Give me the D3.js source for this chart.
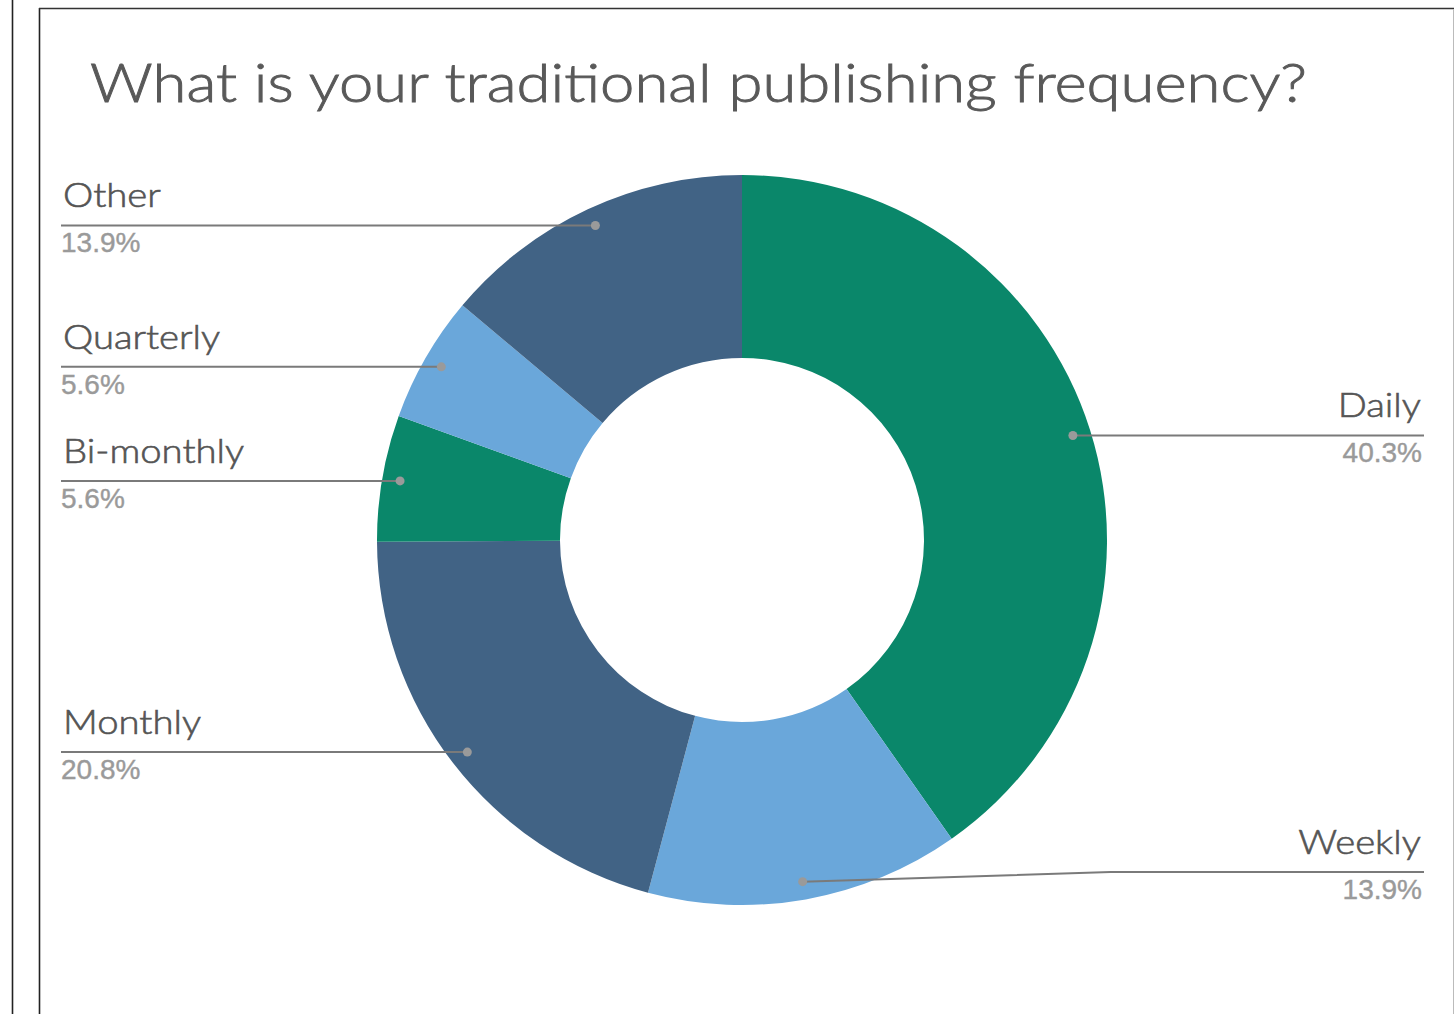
<!DOCTYPE html>
<html>
<head>
<meta charset="utf-8">
<script src="https://cdn.jsdelivr.net/npm/d3@7"></script>
<style>
  html, body { margin: 0; padding: 0; background: #fff; }
  svg { display: block; }
</style>
</head>
<body>
<svg id="chart" width="1454" height="1014"></svg>
<script>
// Survey answers, in clockwise order from 12 o'clock
const categories = ["Daily", "Weekly", "Monthly", "Bi-monthly", "Quarterly", "Other"];
const shares = [40.3, 13.9, 20.8, 5.6, 5.6, 13.9];
const shareLabels = ["40.3%", "13.9%", "20.8%", "5.6%", "5.6%", "13.9%"];
const sliceColors = ["#0a876a", "#6aa7da", "#416385", "#0a876a", "#6aa7da", "#416385"];
const title = "What is your traditional publishing frequency?";

const svg = d3.select("#chart");
const W = 1454, H = 1014;

// frame lines
svg.append("line").attr("x1", 12.5).attr("x2", 12.5).attr("y1", 0).attr("y2", H)
  .attr("stroke", "#222").attr("stroke-width", 1.6);
svg.append("line").attr("x1", 39.5).attr("x2", 39.5).attr("y1", 8).attr("y2", H)
  .attr("stroke", "#222").attr("stroke-width", 1.6);
svg.append("line").attr("x1", 39).attr("x2", W).attr("y1", 8.5).attr("y2", 8.5)
  .attr("stroke", "#333").attr("stroke-width", 1.6);
svg.append("line").attr("x1", W - 0.5).attr("x2", W - 0.5).attr("y1", 9).attr("y2", H)
  .attr("stroke", "#bbb").attr("stroke-width", 1);

// title
svg.append("text")
  .attr("x", 90).attr("y", 102)
  .attr("font-family", "Lato, 'Noto Sans', sans-serif")
  .attr("font-weight", 300)
  .attr("font-size", 54)
  .attr("fill", "#595959")
  .attr("stroke", "#595959")
  .attr("stroke-width", 0.9)
  .attr("textLength", 1217)
  .attr("lengthAdjust", "spacingAndGlyphs")
  .text(title);

const cx = 742, cy = 540;
const outerR = 365, innerR = 182, anchorR = 347;

const pie = d3.pie().sort(null).value(d => d.value);
const arcs = pie(categories.map((c, i) => ({ name: c, value: shares[i], label: shareLabels[i], color: sliceColors[i] })));

const arc = d3.arc().innerRadius(innerR).outerRadius(outerR);
const anchorArc = d3.arc().innerRadius(anchorR).outerRadius(anchorR);

const g = svg.append("g").attr("transform", `translate(${cx},${cy})`);

g.selectAll("path.slice")
  .data(arcs)
  .join("path")
  .attr("class", "slice")
  .attr("d", arc)
  .attr("fill", d => d.data.color);

// leader lines and labels
const leftEnd = 61, rightEnd = 1424;
const lowestLabel = 872;   // labels near the bottom are lifted to this level
const elbowRun = 308;

const labels = svg.append("g");
arcs.forEach(d => {
  const [ax, ay] = anchorArc.centroid(d);
  const px = cx + ax, py = cy + ay;
  const mid = (d.startAngle + d.endAngle) / 2;
  const right = mid < Math.PI;
  const ly = Math.min(py, lowestLabel);
  const endX = right ? rightEnd : leftEnd;
  const elbowX = right ? px + elbowRun : px - elbowRun;

  labels.append("path")
    .attr("d", d3.line()([[px, py], [elbowX, ly], [endX, ly]]))
    .attr("fill", "none")
    .attr("stroke", "#7a7a7a")
    .attr("stroke-width", 2);
  labels.append("circle")
    .attr("cx", px).attr("cy", py).attr("r", 4.5)
    .attr("fill", "#9a9a9a");

  const anchor = right ? "end" : "start";
  labels.append("text")
    .attr("class", "cat")
    .attr("x", right ? rightEnd - 3 : leftEnd + 2).attr("y", ly - 18)
    .attr("text-anchor", anchor)
    .attr("font-family", "Lato, 'Noto Sans', sans-serif")
    .attr("font-weight", 300)
    .attr("font-size", 33)
    .attr("fill", "#555")
    .attr("stroke", "#555")
    .attr("stroke-width", 0.6)
    .text(d.data.name);
  labels.append("text")
    .attr("class", "pct")
    .attr("x", right ? rightEnd - 2 : leftEnd).attr("y", ly + 27)
    .attr("text-anchor", anchor)
    .attr("font-family", "'Liberation Sans', Arial, sans-serif")
    .attr("font-size", 28)
    .attr("fill", "#9a9a9a")
    .attr("stroke", "#9a9a9a")
    .attr("stroke-width", 0.4)
    .text(d.data.label);
});

// category names are set a little wider than the face's natural width
labels.selectAll("text.cat").each(function () {
  const len = this.getComputedTextLength();
  d3.select(this).attr("textLength", len * 1.16).attr("lengthAdjust", "spacingAndGlyphs");
});
</script>
</body>
</html>
